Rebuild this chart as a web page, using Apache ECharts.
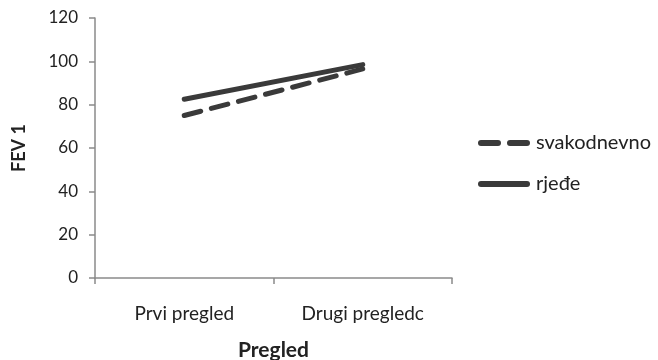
<!DOCTYPE html>
<html>
<head>
<meta charset="utf-8">
<script src="https://cdn.jsdelivr.net/npm/echarts@6/dist/echarts.min.js"></script>
<style>
  html, body { margin: 0; padding: 0; background: #fff; }
  #chart { width: 658px; height: 360px; }
</style>
</head>
<body>
<div id="chart"></div>
<script>
// Visits and FEV1 values for the two groups
const categories = ['Prvi pregled', 'Drugi pregledc'];
const svakodnevno = [75, 96.5];
const rjede = [82.5, 98.5];
const yTicks = { min: 0, max: 120, interval: 20 };

const chart = echarts.init(document.getElementById('chart'));
const ink = '#3a3a3a';
const axisGray = '#8a8a8a';
const font = 'Lato, "Open Sans", sans-serif';

// Legend glyphs: two rounded dashes, or one rounded bar
const dashIcon = 'path://M3,0H20A3,3 0 0 1 20,6H3A3,3 0 0 1 3,0Z M32,0H49A3,3 0 0 1 49,6H32A3,3 0 0 1 32,0Z';
const solidIcon = 'path://M3,0H49A3,3 0 0 1 49,6H3A3,3 0 0 1 3,0Z';

chart.setOption({
  animation: false,
  grid: { left: 95, right: 206, top: 18, bottom: 82, containLabel: false, outerBoundsMode: 'none' },
  legend: {
    orient: 'vertical',
    left: 478,
    top: 133,
    padding: 0,
    itemWidth: 54,
    itemHeight: 6,
    itemGap: 21,
    textStyle: { fontFamily: font, fontSize: 20, lineHeight: 20, color: '#222' },
    data: [
      { name: 'svakodnevno', icon: dashIcon },
      { name: 'rjeđe', icon: solidIcon }
    ]
  },
  xAxis: {
    type: 'category',
    data: categories,
    boundaryGap: true,
    name: 'Pregled',
    nameLocation: 'middle',
    nameGap: 62,
    nameTextStyle: { fontFamily: font, fontSize: 21, fontWeight: 'bold', color: '#222' },
    axisLine: { lineStyle: { color: axisGray, width: 1.5 } },
    axisTick: { show: true, length: 6, alignWithLabel: false, lineStyle: { color: axisGray, width: 1.5 } },
    axisLabel: { fontFamily: font, fontSize: 19, color: '#222', margin: 26 }
  },
  yAxis: {
    type: 'value',
    min: yTicks.min,
    max: yTicks.max,
    interval: yTicks.interval,
    name: 'FEV 1',
    nameLocation: 'middle',
    nameGap: 67,
    nameRotate: 90,
    nameTextStyle: { fontFamily: font, fontSize: 18, fontWeight: 'bold', color: '#222' },
    splitLine: { show: false },
    axisLine: { show: true, lineStyle: { color: axisGray, width: 1.5 } },
    axisTick: { show: true, length: 6, lineStyle: { color: axisGray, width: 1.5 } },
    axisLabel: { fontFamily: font, fontSize: 17, color: '#222', margin: 17 }
  },
  series: [
    {
      name: 'svakodnevno',
      type: 'line',
      data: svakodnevno,
      symbol: 'none',
      lineStyle: { color: ink, width: 5, type: [17, 11], cap: 'round' },
      itemStyle: { color: ink }
    },
    {
      name: 'rjeđe',
      type: 'line',
      data: rjede,
      symbol: 'none',
      lineStyle: { color: ink, width: 5, cap: 'round' },
      itemStyle: { color: ink }
    }
  ]
});
</script>
</body>
</html>
